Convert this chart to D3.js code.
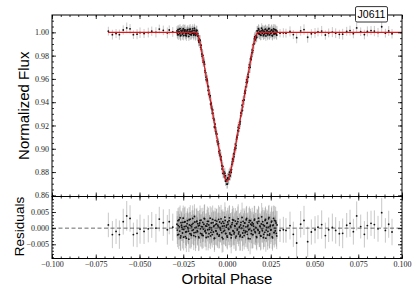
<!DOCTYPE html>
<html>
<head>
<meta charset="utf-8">
<script src="https://cdn.jsdelivr.net/npm/d3@7"></script>
<style>
body { margin: 0; background: #fff; }
.tick text { font-family: "Liberation Serif", serif; font-size: 8px; fill: #222; }
.tick line { stroke: #000; stroke-width: 0.8; }
.axis-label { font-family: "Liberation Sans", sans-serif; font-size: 15px; fill: #000; }
</style>
</head>
<body>
<div class="canvas"></div>
<script>
// sparse out-of-transit points (phase, flux, residual in ppt, error in ppt)
const phaseOut = [-0.0678,-0.0655,-0.0634,-0.0615,-0.0593,-0.0573,-0.0554,-0.0535,-0.0514,-0.0497,-0.0474,-0.0450,-0.0430,-0.0406,-0.0387,-0.0364,-0.0341,-0.0330,-0.0310,
  0.0303,0.0322,0.0337,0.0360,0.0379,0.0398,0.0421,0.0440,0.0461,0.0482,0.0503,0.0520,0.0541,0.0562,0.0581,0.0602,0.0621,0.0642,0.0661,0.0684,0.0703,0.0722,0.0741,0.0764,0.0785,0.0802,0.0823,0.0842,0.0863,0.0884,0.0905,0.0924,0.0943]
const fluxOut = [1.0010,0.9980,0.9990,0.9980,1.0020,1.0038,1.0030,0.9980,0.9984,0.9997,0.9990,0.9998,1.0010,1.0000,1.0028,1.0017,0.9995,1.0020,1.0003,
  0.9993,0.9995,0.9993,1.0008,0.9981,0.9954,1.0012,1.0024,0.9958,0.9988,0.9995,1.0003,1.0011,0.9977,0.9995,1.0002,0.9993,0.9983,0.9984,1.0009,1.0015,0.9989,1.0038,1.0005,0.9981,1.0008,1.0015,1.0011,0.9998,1.0048,0.9993,1.0012,0.9988]
const residOut = [1.0,-2.0,-1.0,-2.0,2.0,3.8,3.0,-2.0,-1.6,-0.3,-1.0,-0.2,1.0,0.0,2.8,1.7,-0.5,2.0,0.3,
  -0.7,-0.5,-0.7,0.8,-1.9,-4.6,1.2,2.4,-4.2,-1.2,-0.5,0.3,1.1,-2.3,-0.5,0.2,-0.7,-1.7,-1.6,0.9,1.5,-1.1,3.8,0.5,-1.9,0.8,1.5,1.1,-0.2,4.8,-0.7,1.2,-1.2]
const errOut = [3.8,4.2,3.9,4.4,4.0,4.6,4.1,3.7,4.3,4.5,3.9,4.2,4.0,4.4,3.8,4.1,4.6,3.9,4.2,
  3.6,4.0,3.8,4.3,3.9,4.8,4.1,4.5,4.7,3.9,4.2,3.7,4.4,4.0,3.8,4.3,4.1,3.9,4.6,3.8,4.2,4.0,4.5,3.7,4.1,4.3,3.9,4.4,4.0,4.6,3.8,4.2,4.1]

// dense points around the transit, first visit (phase in units of 1e-4)
const phaseIn = [-286,-282,-279,-274,-270,-266,-263,-258,-254,-250,-247,-242,-238,-234,-231,-226,-222,-218,-215,-210,-206,-202,-199,-194,-190,-186,-183,-178,-174,-170,-167,-162,-158,-154,-151,-146,-142,-138,-135,-130,-126,-122,-119,-114,-110,-106,-103,-98,-94,-90,-87,-82,-78,-74,-71,-66,-62,-58,-55,-50,-46,-42,-39,-34,-30,-26,-23,-18,-14,-10,-7,-2,
  2,6,10,14,18,22,26,30,34,38,42,46,50,54,58,62,66,70,74,78,82,86,90,94,98,102,106,110,114,118,122,126,130,134,138,142,146,150,154,158,162,166,170,174,178,182,186,190,194,198,202,206,210,214,218,222,226,230,234,238,242,246,250,254,258,262,266,270,274,278,282,286]
const fluxIn = [1.0012,0.9979,1.0008,1.0026,0.9991,0.9970,1.0017,1.0003,0.9985,1.0031,
  0.9996,1.0019,0.9974,1.0006,0.9989,1.0023,0.9998,0.9966,1.0010,1.0028,
  0.9982,1.0004,0.9993,1.0015,0.9977,1.0036,1.0001,0.9987,
  1.0018,0.9980,0.9989,0.9927,0.9941,0.9930,0.9871,0.9853,0.9794,0.9801,0.9755,0.9745,
  0.9671,0.9654,0.9593,0.9592,0.9540,0.9532,0.9469,0.9445,0.9385,0.9391,
  0.9344,0.9334,0.9261,0.9247,0.9183,0.9182,0.9128,0.9125,0.9059,0.9039,
  0.8976,0.8986,0.8940,0.8931,0.8856,0.8848,0.8788,0.8804,0.8760,0.8769,
  0.8722,0.8734,0.8697,0.8747,0.8741,0.8799,0.8770,0.8817,0.8821,0.8887,
  0.8894,0.8959,0.8954,0.9007,0.9005,0.9083,0.9097,0.9157,0.9153,0.9207,
  0.9213,0.9283,0.9306,0.9374,0.9360,0.9416,0.9420,0.9493,0.9502,0.9571,
  0.9568,0.9618,0.9615,0.9699,0.9712,0.9772,0.9766,0.9825,0.9828,0.9893,
  0.9901,0.9960,0.9940,0.9972,0.9959,1.0013,0.9993,1.0021,0.9988,1.0004,
  0.9975,1.0035,0.9992,1.0011,0.9981,1.0007,1.0024,0.9969,1.0002,1.0016,
  0.9990,1.0029,0.9978,1.0005,0.9994,1.0019,0.9973,1.0008,1.0030,0.9987,
  1.0000,1.0022,0.9984,1.0010]
const residIn = [1.2,-2.1,0.8,2.6,-0.9,-3.0,1.7,0.3,-1.5,3.1,
  -0.4,1.9,-2.6,0.6,-1.1,2.3,-0.2,-3.4,1.0,2.8,
  -1.8,0.4,-0.7,1.5,-2.3,3.6,0.1,-1.3,2.0,-0.8,
  1.4,-2.7,0.9,2.4,-1.6,0.5,-2.2,1.8,-0.3,3.0,
  -1.0,0.7,-2.9,1.3,-0.5,2.1,-1.7,0.2,-2.4,1.6,
  -0.6,2.7,-1.2,0.8,-3.1,1.1,-0.9,2.2,-1.9,0.4,
  -2.5,1.9,-0.2,2.9,-1.4,0.6,-3.3,1.5,-0.7,2.4,
  -1.6,0.9,-2.8,1.2,-0.4,3.2,-1.9,0.3,-2.1,1.7,
  -0.8,2.5,-1.3,0.6,-3.0,1.4,-0.6,2.0,-1.8,0.2,
  -2.6,1.0,-0.1,3.3,-1.5,0.7,-2.3,1.6,-0.9,2.6,
  -1.1,0.5,-3.2,1.8,-0.3,2.3,-1.7,0.9,-2.0,1.3,
  -0.5,2.8,-1.4,0.1,-2.9,1.5,-0.7,2.1,-1.2,0.4,
  -2.5,3.5,-0.8,1.1,-1.9,0.7,2.4,-3.1,0.2,1.6,
  -1.0,2.9,-2.2,0.5,-0.6,1.9,-2.7,0.8,3.0,-1.3,
  0.0,2.2,-1.6,1.0]
const errIn = [4.1,3.8,4.4,3.9,4.6,4.0,3.7,4.3,4.8,3.9,
  4.2,4.5,3.6,4.1,4.4,3.8,4.7,4.0,3.9,4.3,
  4.6,3.7,4.2,4.0,4.5,3.8,4.1,4.9,3.9,4.3,
  4.0,4.4,3.7,4.6,4.1,3.8,4.3,4.5,3.9,4.2,
  4.7,3.8,4.0,4.4,3.6,4.2,4.5,3.9,4.1,4.8,
  3.8,4.3,4.0,4.6,3.7,4.1,4.4,3.9,4.2,4.5,
  3.8,4.7,4.0,4.3,3.9,4.6,4.1,3.7,4.4,4.2,
  4.0,4.5,3.8,4.3,4.9,3.9,4.1,4.4,3.7,4.2,
  4.6,3.8,4.0,4.5,4.1,3.9,4.3,4.7,3.8,4.2,
  4.4,4.0,3.7,4.6,4.1,3.9,4.3,4.5,3.8,4.0,
  4.8,4.1,3.9,4.4,4.2,3.7,4.6,4.0,4.3,3.8,
  4.5,4.1,3.9,4.7,4.0,4.2,3.8,4.4,4.6,3.9,
  4.1,4.3,3.7,4.5,4.0,4.8,3.9,4.2,4.4,3.8,
  4.6,4.0,4.1,3.9,4.3,4.5,3.7,4.2,4.0,4.7,
  3.9,4.4,4.1,4.3]

// dense points around the transit, second visit (phase in units of 1e-4)
const phaseIn2 = [-284,-280,-276,-272,-268,-264,-260,-256,-252,-248,-244,-240,-236,-232,-228,-224,-220,-216,-212,-208,-204,-200,-196,-192,-188,-184,-180,-176,-172,-168,-164,-160,-156,-152,-148,-144,-140,-136,-132,-128,-124,-120,-116,-112,-108,-104,-100,-96,-92,-88,-84,-80,-76,-72,-68,-64,-60,-56,-52,-48,-44,-40,-36,-32,-28,-24,-20,-16,-12,-8,-4,0,
  4,8,12,16,20,24,28,32,36,40,44,48,52,56,60,64,68,72,76,80,84,88,92,96,100,104,108,112,116,120,124,128,132,136,140,144,148,152,156,160,164,168,172,176,180,184,188,192,196,200,204,208,212,216,220,224,228,232,236,240,244,248,252,256,260,264,268,272,276,280,284]
const fluxIn2 = [0.9994,1.0023,0.9981,1.0004,1.0032,0.9976,1.0009,0.9997,1.0018,0.9972,
  1.0005,1.0020,0.9988,0.9969,1.0014,1.0002,0.9991,1.0026,0.9983,1.0008,
  0.9978,1.0011,1.0030,0.9995,0.9986,1.0019,0.9974,1.0003,1.0015,0.9968,
  0.9969,0.9915,0.9935,0.9891,0.9889,0.9814,0.9804,0.9743,0.9744,0.9727,
  0.9657,0.9615,0.9602,0.9583,0.9501,0.9504,0.9456,0.9457,0.9379,0.9359,
  0.9304,0.9307,0.9261,0.9190,0.9212,0.9146,0.9133,0.9070,0.9061,0.9045,
  0.8963,0.8952,0.8912,0.8901,0.8827,0.8848,0.8790,0.8785,0.8790,0.8723,
  0.8733,0.8696,0.8749,0.8739,0.8779,0.8763,0.8806,0.8798,0.8867,0.8912,
  0.8909,0.8932,0.8992,0.9040,0.9027,0.9100,0.9117,0.9183,0.9176,0.9227,
  0.9234,0.9308,0.9324,0.9330,0.9413,0.9419,0.9476,0.9480,0.9532,0.9592,
  0.9577,0.9639,0.9659,0.9722,0.9699,0.9778,0.9792,0.9849,0.9844,0.9899,
  0.9944,0.9934,0.9964,0.9953,1.0012,0.9996,1.0031,0.9984,1.0007,0.9977,
  1.0013,0.9998,1.0020,0.9971,1.0008,0.9987,1.0027,0.9994,1.0015,0.9979,
  1.0003,1.0033,0.9982,1.0009,0.9995,1.0022,0.9970,1.0010,0.9986,1.0024,
  0.9992,1.0016,0.9976]
const residIn2 = [-0.6,2.3,-1.9,0.4,3.2,-2.4,0.9,-0.3,1.8,-2.8,
  0.5,2.0,-1.2,-3.1,1.4,0.2,-0.9,2.6,-1.7,0.8,
  -2.2,1.1,3.0,-0.5,-1.4,1.9,-2.6,0.3,2.2,-1.1,
  0.7,-3.0,1.6,-0.2,2.5,-1.8,0.4,-2.3,1.2,2.9,
  -0.7,-1.5,0.6,2.1,-2.7,1.0,-0.4,3.1,-1.3,0.1,
  -2.0,1.7,0.5,-3.2,2.4,-0.8,1.3,-1.6,0.9,2.7,
  -2.1,0.2,-0.6,1.5,-2.9,2.0,-1.0,0.7,3.4,-1.7,
  0.3,-2.4,1.9,-0.1,2.3,-1.5,0.6,-3.0,1.1,2.6,
  -0.9,-1.8,0.8,2.2,-2.5,1.4,-0.3,2.9,-1.2,0.5,
  -2.2,1.8,0.0,-2.8,2.1,-0.7,1.6,-1.4,0.4,3.0,
  -1.9,0.9,-0.5,2.4,-3.3,1.2,-0.8,1.7,-2.0,0.6,
  2.5,-1.1,0.2,-2.6,1.9,-0.4,3.1,-1.6,0.7,-2.3,
  1.3,-0.2,2.0,-2.9,0.8,-1.3,2.7,-0.6,1.5,-2.1,
  0.3,3.3,-1.8,0.9,-0.5,2.2,-3.0,1.0,-1.4,2.4,
  -0.8,1.6,-2.4]
const errIn2 = [4.3,3.9,4.6,4.0,3.8,4.5,4.2,3.7,4.4,4.1,
  3.9,4.7,4.0,4.3,3.8,4.6,4.1,3.9,4.5,4.2,
  3.7,4.4,4.0,4.8,3.9,4.2,4.5,3.8,4.1,4.3,
  4.6,3.9,4.0,4.4,3.7,4.2,4.7,3.9,4.1,4.5,
  3.8,4.3,4.0,4.6,4.2,3.9,4.4,3.7,4.1,4.8,
  4.0,3.8,4.5,4.2,3.9,4.3,4.6,4.0,3.7,4.4,
  4.1,4.5,3.9,4.2,4.7,3.8,4.0,4.3,4.6,3.9,
  4.2,3.8,4.4,4.1,4.5,3.7,4.0,4.8,3.9,4.3,
  4.2,4.6,3.8,4.0,4.4,4.1,3.9,4.5,3.7,4.2,
  4.7,3.9,4.1,4.3,4.0,4.6,3.8,4.4,4.2,3.9,
  4.5,4.0,3.7,4.3,4.8,4.1,3.9,4.6,4.2,3.8,
  4.4,4.0,4.5,3.9,4.1,4.7,3.8,4.3,4.0,4.6,
  3.9,4.2,4.4,3.7,4.1,4.5,4.0,3.8,4.3,4.6,
  4.1,3.9,4.4,4.2,3.8,4.7,4.0,4.3,3.9,4.5,
  4.2,3.8,4.1]

// best fit transit model
const modelPhase = [-0.068,-0.0175,-0.017,-0.016,-0.015,-0.014,-0.013,-0.012,-0.011,-0.010,-0.009,-0.008,-0.007,-0.006,-0.005,-0.004,-0.003,-0.002,-0.001,0,
  0.001,0.002,0.003,0.004,0.005,0.006,0.007,0.008,0.009,0.010,0.011,0.012,0.013,0.014,0.015,0.016,0.017,0.0175,0.100]
const modelFlux = [1,1,0.9988,0.9945,0.9880,0.9800,0.9715,0.9630,0.9545,0.9460,0.9375,0.9290,0.9205,0.9120,0.9035,0.8950,0.8870,0.8800,0.8745,0.8720,
  0.8745,0.8800,0.8870,0.8950,0.9035,0.9120,0.9205,0.9290,0.9375,0.9460,0.9545,0.9630,0.9715,0.9800,0.9880,0.9945,0.9988,1,1]

// ticks
const xTicks = [-0.100,-0.075,-0.050,-0.025,0,0.025,0.050,0.075,0.100]
const fluxTicks = [0.86,0.88,0.90,0.92,0.94,0.96,0.98,1.00]
const residTicks = [-0.005,0,0.005]
const targetName = "J0611"

const data = []
phaseOut.forEach((p, i) => data.push({phase: p, flux: fluxOut[i], resid: residOut[i] / 1000, err: errOut[i] / 1000}))
phaseIn.forEach((p, i) => data.push({phase: p / 10000, flux: fluxIn[i], resid: residIn[i] / 1000, err: errIn[i] / 1000}))
phaseIn2.forEach((p, i) => data.push({phase: p / 10000, flux: fluxIn2[i], resid: residIn2[i] / 1000, err: errIn2[i] / 1000}))
const model = modelPhase.map((p, i) => ({phase: p, flux: modelFlux[i]}))

const svg = d3.select(".canvas")
  .append("svg")
  .attr("width", 415)
  .attr("height", 291)

const margin = {top: 15, left: 52, right: 13}
const graphWidth = 415 - margin.left - margin.right
const topHeight = 181.5
const resHeight = 62

const xScale = d3.scaleLinear().domain([-0.1, 0.1]).range([0, graphWidth])
const yFlux = d3.scaleLinear().domain([0.8590, 1.0149]).range([topHeight, 0])
const yRes = d3.scaleLinear().domain([-0.0094, 0.0098]).range([resHeight, 0])

const topGraph = svg.append("g").attr("transform", `translate(${margin.left}, ${margin.top})`)
const resGraph = svg.append("g").attr("transform", `translate(${margin.left}, ${margin.top + topHeight})`)

const barColor = "#858585"
const barOpacity = 0.45

// top panel: error bars, points, model
topGraph.append("g").selectAll("line").data(data).enter().append("line")
  .attr("x1", d => xScale(d.phase)).attr("x2", d => xScale(d.phase))
  .attr("y1", d => yFlux(d.flux - d.err)).attr("y2", d => yFlux(d.flux + d.err))
  .attr("stroke", barColor).attr("stroke-opacity", barOpacity).attr("stroke-width", 1)

topGraph.append("g").selectAll("circle").data(data).enter().append("circle")
  .attr("cx", d => xScale(d.phase)).attr("cy", d => yFlux(d.flux))
  .attr("r", 0.9).attr("fill", "#111")

const lineGen = d3.line().x(d => xScale(d.phase)).y(d => yFlux(d.flux)).curve(d3.curveMonotoneX)
topGraph.append("path").attr("d", lineGen(model))
  .attr("fill", "none").attr("stroke", "#e8141a").attr("stroke-width", 1.1)

// residual panel
resGraph.append("g").selectAll("line").data(data).enter().append("line")
  .attr("x1", d => xScale(d.phase)).attr("x2", d => xScale(d.phase))
  .attr("y1", d => yRes(d.resid - d.err)).attr("y2", d => yRes(d.resid + d.err))
  .attr("stroke", barColor).attr("stroke-opacity", barOpacity).attr("stroke-width", 1)

resGraph.append("g").selectAll("circle").data(data).enter().append("circle")
  .attr("cx", d => xScale(d.phase)).attr("cy", d => yRes(d.resid))
  .attr("r", 0.9).attr("fill", "#111")

resGraph.append("line")
  .attr("x1", 0).attr("x2", graphWidth)
  .attr("y1", yRes(0)).attr("y2", yRes(0))
  .attr("stroke", "#444").attr("stroke-width", 0.8).attr("stroke-dasharray", "4,2.5")

// ticks pointing inward on every side
const xMinor = d3.range(-20, 21).map(i => i * 0.005)
const fluxMinor = d3.range(172, 203).map(i => i * 0.005)
const resMinor = d3.range(-9, 10).map(i => i * 0.001)

function addTicks(g, axis, scale, major, minor, fmt, pad) {
  g.append("g").call(axis(scale).tickValues(minor).tickSize(-2).tickFormat(""))
    .call(a => a.select(".domain").remove())
  g.append("g").call(axis(scale).tickValues(major).tickSize(-4).tickPadding(pad || 3).tickFormat(fmt || ""))
    .call(a => a.select(".domain").remove())
}

const fmtX = d3.format(".3f")
const fmtFlux = d3.format(".2f")
const fmtRes = d3.format(".3f")

// top panel axes
addTicks(topGraph.append("g"), d3.axisTop, xScale, xTicks, xMinor)
addTicks(topGraph.append("g").attr("transform", `translate(0, ${topHeight})`), d3.axisBottom, xScale, xTicks, xMinor)
addTicks(topGraph.append("g"), d3.axisLeft, yFlux, fluxTicks, fluxMinor, fmtFlux, 3)
addTicks(topGraph.append("g").attr("transform", `translate(${graphWidth}, 0)`), d3.axisRight, yFlux, fluxTicks, fluxMinor)

// residual panel axes
addTicks(resGraph.append("g"), d3.axisTop, xScale, xTicks, xMinor)
addTicks(resGraph.append("g").attr("transform", `translate(0, ${resHeight})`), d3.axisBottom, xScale, xTicks, xMinor, fmtX, 2.8)
addTicks(resGraph.append("g"), d3.axisLeft, yRes, residTicks, resMinor, fmtRes, 3)
addTicks(resGraph.append("g").attr("transform", `translate(${graphWidth}, 0)`), d3.axisRight, yRes, residTicks, resMinor)

// frames
topGraph.append("rect").attr("width", graphWidth).attr("height", topHeight)
  .attr("fill", "none").attr("stroke", "#000").attr("stroke-width", 1)
resGraph.append("rect").attr("width", graphWidth).attr("height", resHeight)
  .attr("fill", "none").attr("stroke", "#000").attr("stroke-width", 1)

// axis labels
svg.append("text").attr("class", "axis-label")
  .attr("transform", `translate(29, ${margin.top + topHeight / 2}) rotate(-90)`)
  .attr("text-anchor", "middle").text("Normalized Flux")
svg.append("text").attr("class", "axis-label")
  .attr("transform", `translate(24, ${margin.top + topHeight + resHeight / 2 - 1}) rotate(-90)`)
  .attr("text-anchor", "middle").style("font-size", "13.5px").text("Residuals")
svg.append("text").attr("class", "axis-label")
  .attr("x", margin.left + graphWidth / 2).attr("y", 283.5)
  .attr("text-anchor", "middle").text("Orbital Phase")

// target name box
const tag = svg.append("g").attr("transform", "translate(371.5, 14.2)")
tag.append("rect").attr("x", -16).attr("y", -7.6).attr("width", 32).attr("height", 15.4).attr("rx", 1.5)
  .attr("fill", "#fff").attr("stroke", "#333").attr("stroke-width", 1)
tag.append("text").attr("text-anchor", "middle").attr("dy", "0.36em")
  .style("font-family", "Liberation Sans, sans-serif").style("font-size", "10.5px")
  .text(targetName)
</script>
</body>
</html>
